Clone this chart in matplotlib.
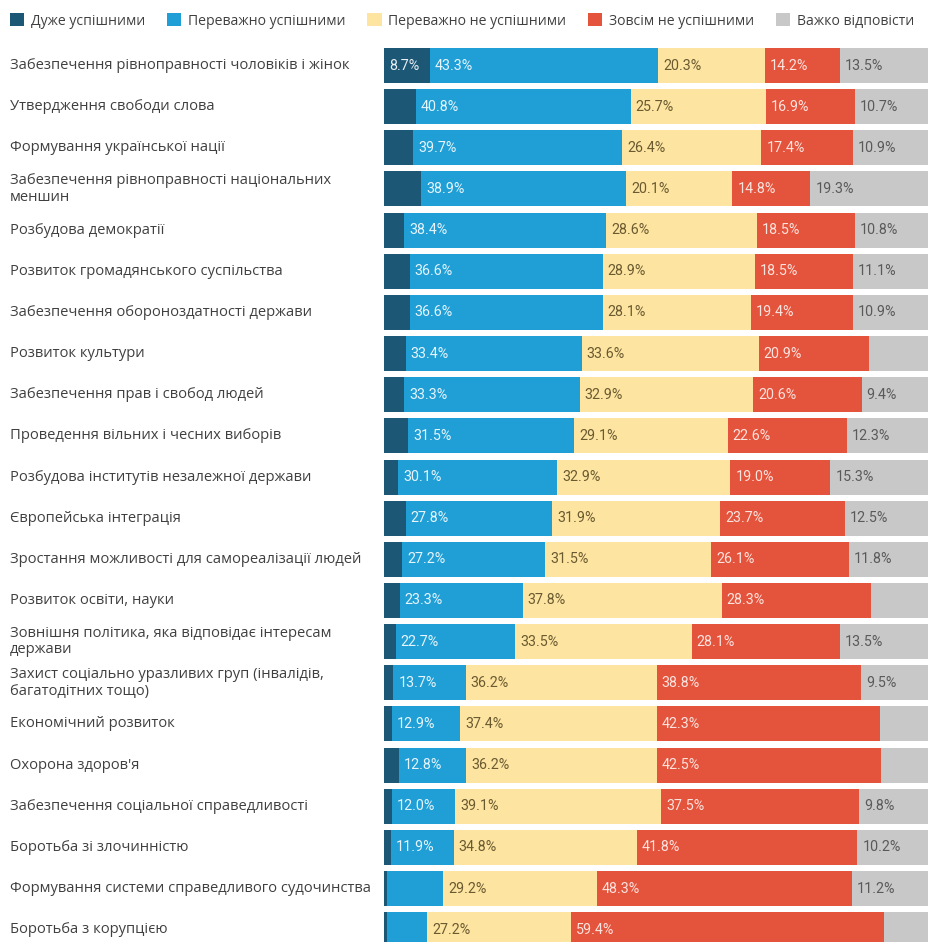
import matplotlib

matplotlib.use("Agg")
import matplotlib.pyplot as plt
from matplotlib.patches import Patch
from matplotlib.transforms import blended_transform_factory

plt.rcParams["font.family"] = ["Open Sans", "DejaVu Sans"]

categories = [
    "Забезпечення рівноправності чоловіків і жінок",
    "Утвердження свободи слова",
    "Формування української нації",
    "Забезпечення рівноправності національних\nменшин",
    "Розбудова демократії",
    "Розвиток громадянського суспільства",
    "Забезпечення обороноздатності держави",
    "Розвиток культури",
    "Забезпечення прав і свобод людей",
    "Проведення вільних і чесних виборів",
    "Розбудова інститутів незалежної держави",
    "Європейська інтеграція",
    "Зростання можливості для самореалізації людей",
    "Розвиток освіти, науки",
    "Зовнішня політика, яка відповідає інтересам\nдержави",
    "Захист соціально уразливих груп (інвалідів,\nбагатодітних тощо)",
    "Економічний розвиток",
    "Охорона здоров'я",
    "Забезпечення соціальної справедливості",
    "Боротьба зі злочинністю",
    "Формування системи справедливого судочинства",
    "Боротьба з корупцією",
]

series_names = [
    "Дуже успішними",
    "Переважно успішними",
    "Переважно не успішними",
    "Зовсім не успішними",
    "Важко відповісти",
]

very_success = [8.7, 6.0, 5.5, 7.1, 3.8, 4.9, 4.9, 4.1, 3.8, 4.6, 2.7,
                4.1, 3.4, 3.0, 2.2, 1.8, 1.5, 2.8, 1.5, 1.3, 0.6, 0.6]
mostly_success = [43.3, 40.8, 39.7, 38.9, 38.4, 36.6, 36.6, 33.4, 33.3, 31.5, 30.1,
                  27.8, 27.2, 23.3, 22.7, 13.7, 12.9, 12.8, 12.0, 11.9, 10.6, 7.6]
mostly_not = [20.3, 25.7, 26.4, 20.1, 28.6, 28.9, 28.1, 33.6, 32.9, 29.1, 32.9,
              31.9, 31.5, 37.8, 33.5, 36.2, 37.4, 36.2, 39.1, 34.8, 29.2, 27.2]
not_at_all = [14.2, 16.9, 17.4, 14.8, 18.5, 18.5, 19.4, 20.9, 20.6, 22.6, 19.0,
              23.7, 26.1, 28.3, 28.1, 38.8, 42.3, 42.5, 37.5, 41.8, 48.3, 59.4]
hard_to_say = [13.5, 10.7, 10.9, 19.3, 10.8, 11.1, 10.9, 8.0, 9.4, 12.3, 15.3,
               12.5, 11.8, 7.6, 13.5, 9.5, 5.9, 5.7, 9.8, 10.2, 11.2, 5.3]

colors = ["#1c5876", "#1f9fd5", "#fde4a1", "#e4533c", "#c8c8c8"]
label_colors = ["#e8eef2", "#e6f4fb", "#6a5a30", "#fbe3de", "#5a5a5a"]
min_label = [8, 11, 9, 9, 9]

all_series = [very_success, mostly_success, mostly_not, not_at_all, hard_to_say]

fig = plt.figure(figsize=(9.29, 9.42), dpi=100)
ax = fig.add_axes([384 / 929, 0, 545 / 929, 898 / 942])

xmax = 103.4
y = list(range(len(categories)))
left = [0.0] * len(categories)
for k, vals in enumerate(all_series):
    # last segment runs on to the right edge like in the original
    widths = vals if k < 4 else [xmax + 5 - l for l in left]
    ax.barh(y, widths, left=left, height=0.85, color=colors[k], linewidth=0)
    for i, v in enumerate(vals):
        if v >= min_label[k]:
            ax.annotate(f"{v:.1f}%", (left[i], i), xytext=(5, 0),
                        textcoords="offset pixels", va="center", ha="left",
                        fontsize=10.3, family=["Roboto", "DejaVu Sans"],
                        color=label_colors[k])
    left = [l + v for l, v in zip(left, vals)]

ax.set_xlim(0, xmax)
ax.set_ylim(21.3, -0.523)
ax.axis("off")

trans = blended_transform_factory(fig.transFigure, ax.transData)
for i, cat in enumerate(categories):
    ax.text(10 / 929, i, cat, transform=trans, ha="left", va="center",
            fontsize=10.6, color="#404040", linespacing=1.15)

handles = [Patch(facecolor=c, edgecolor="none") for c in colors]
fig.legend(handles, series_names, loc="center left",
           bbox_to_anchor=(-3 / 929, 1 - 21 / 942), ncol=5, frameon=False,
           fontsize=10.1, handlelength=1.05, handleheight=1.05, handletextpad=0.45,
           columnspacing=1.55, labelcolor="#404040")

fig.savefig("out.png", dpi=100)
